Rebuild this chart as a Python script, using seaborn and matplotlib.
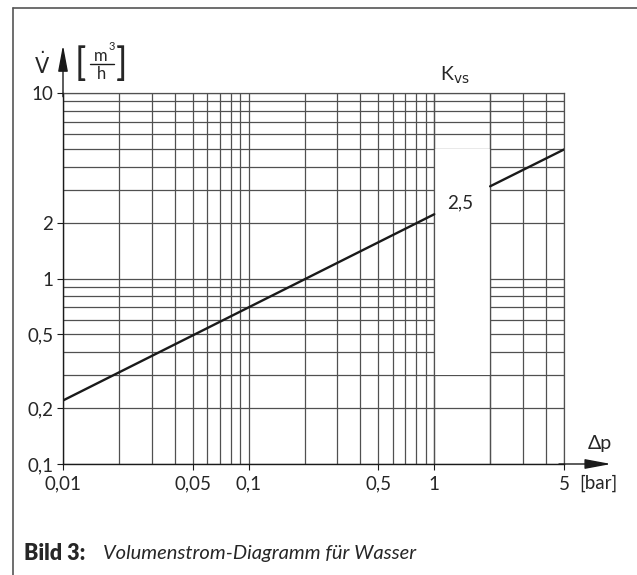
import numpy as np
import pandas as pd
import matplotlib
matplotlib.use("Agg")
import matplotlib.pyplot as plt
import matplotlib.ticker as mticker
from matplotlib.lines import Line2D
from matplotlib.patches import Rectangle
import seaborn as sns

# Kvs = 2.5 curve, drawn in two pieces around the label gap
seg_a_dp = [0.01, 1.0]
seg_a_v = [0.22, 2.22]
seg_b_dp = [2.0, 5.0]
seg_b_v = [3.14, 4.96]
kvs_label = "2,5"

x_ticks = [0.01, 0.05, 0.1, 0.5, 1, 5]
x_labels = ["0,01", "0,05", "0,1", "0,5", "1", "5"]
y_ticks = [0.1, 0.2, 0.5, 1, 2, 10]
y_labels = ["0,1", "0,2", "0,5", "1", "2", "10"]

df = pd.DataFrame({
    "dp": seg_a_dp + seg_b_dp,
    "V": seg_a_v + seg_b_v,
    "seg": ["a"] * len(seg_a_dp) + ["b"] * len(seg_b_dp),
})

sns.set_style("white")
plt.rcParams["font.family"] = ["Lato", "DejaVu Sans"]
plt.rcParams["mathtext.fontset"] = "dejavusans"

fig = plt.figure(figsize=(6.37, 5.75), dpi=100)
ax = fig.add_axes([63 / 637, 1 - 464 / 575, 501 / 637, 371 / 575])

ax.set_xscale("log")
ax.set_yscale("log")
ax.set_xlim(0.01, 5)
ax.set_ylim(0.1, 10)

gcol = "#505050"
ax.grid(True, which="both", color=gcol, lw=0.9)
ax.set_axisbelow(True)

# white gap for the curve label
ax.add_patch(Rectangle((1, 0.3), 1, 4.7, facecolor="white", edgecolor="none", zorder=1))
for xv in [1, 2]:
    ax.axvline(xv, color=gcol, lw=0.9, zorder=1.5)

sns.lineplot(data=df, x="dp", y="V", units="seg", estimator=None,
             color="#1a1a1a", lw=1.7, ax=ax, zorder=3, legend=False)

ax.text(1.38, 2.55, kvs_label, fontsize=13.5, ha="center", va="center", zorder=4)

ax.xaxis.set_major_locator(mticker.FixedLocator(x_ticks))
ax.xaxis.set_major_formatter(mticker.FixedFormatter(x_labels))
ax.yaxis.set_major_locator(mticker.FixedLocator(y_ticks))
ax.yaxis.set_major_formatter(mticker.FixedFormatter(y_labels))
ax.tick_params(which="major", direction="out", length=4, width=0.8, color="#1a1a1a",
               labelsize=13.5, bottom=True, left=True)
ax.tick_params(axis="x", which="major", pad=4.5)
ax.tick_params(axis="y", which="major", pad=3)
ax.tick_params(which="minor", length=0)
ax.set_xlabel("")
ax.set_ylabel("")

for s in ["top", "right"]:
    ax.spines[s].set_color(gcol)
    ax.spines[s].set_linewidth(0.9)
for s in ["left", "bottom"]:
    ax.spines[s].set_color("#1a1a1a")
    ax.spines[s].set_linewidth(1.0)

# axis arrows
ax.annotate("", xy=(0, 1.129), xytext=(0, 0.99), xycoords="axes fraction",
            arrowprops=dict(arrowstyle="-|>,head_length=1.6,head_width=0.3",
                            color="#1a1a1a", lw=1.0, shrinkA=0, shrinkB=0))
ax.annotate("", xy=(1.094, 0), xytext=(0.99, 0), xycoords="axes fraction",
            arrowprops=dict(arrowstyle="-|>,head_length=1.6,head_width=0.3",
                            color="#1a1a1a", lw=1.0, shrinkA=0, shrinkB=0))

def fx(px):
    return px / 637

def fy(py):
    return 1 - py / 575

# axis titles
fig.text(fx(42), fy(65), r"$\dot{\mathrm{V}}$", fontsize=15, ha="center", va="center")
fig.text(fx(80), fy(64), "[", fontsize=27, ha="center", va="center")
fig.text(fx(122), fy(64), "]", fontsize=27, ha="center", va="center")
fig.text(fx(101), fy(56), "m", fontsize=12, ha="center", va="center")
fig.text(fx(112), fy(47), "3", fontsize=8, ha="center", va="center")
fig.text(fx(101), fy(74), "h", fontsize=12, ha="center", va="center")
fig.add_artist(Line2D([fx(90), fx(114)], [fy(64), fy(64)], color="#1a1a1a", lw=1.0))

fig.text(fx(455), fy(75), r"K$_{\mathsf{vs}}$", fontsize=14, ha="center", va="center")
fig.text(fx(600), fy(443), "Δp", fontsize=14, ha="center", va="center")
fig.text(fx(598), fy(483), "[bar]", fontsize=13.5, ha="center", va="center")

# caption
fig.text(fx(24), fy(554), "Bild 3:", fontsize=15.5, fontweight="heavy", ha="left", va="center")
fig.text(fx(103), fy(554), "Volumenstrom-Diagramm für Wasser", fontsize=14.5,
         style="italic", ha="left", va="center")

# document frame
fig.add_artist(Line2D([fx(13), 1], [fy(8), fy(8)], color="#555555", lw=1.2))
fig.add_artist(Line2D([fx(13), fx(13)], [fy(8), 0], color="#555555", lw=1.2))

fig.savefig("out.png", dpi=100)
